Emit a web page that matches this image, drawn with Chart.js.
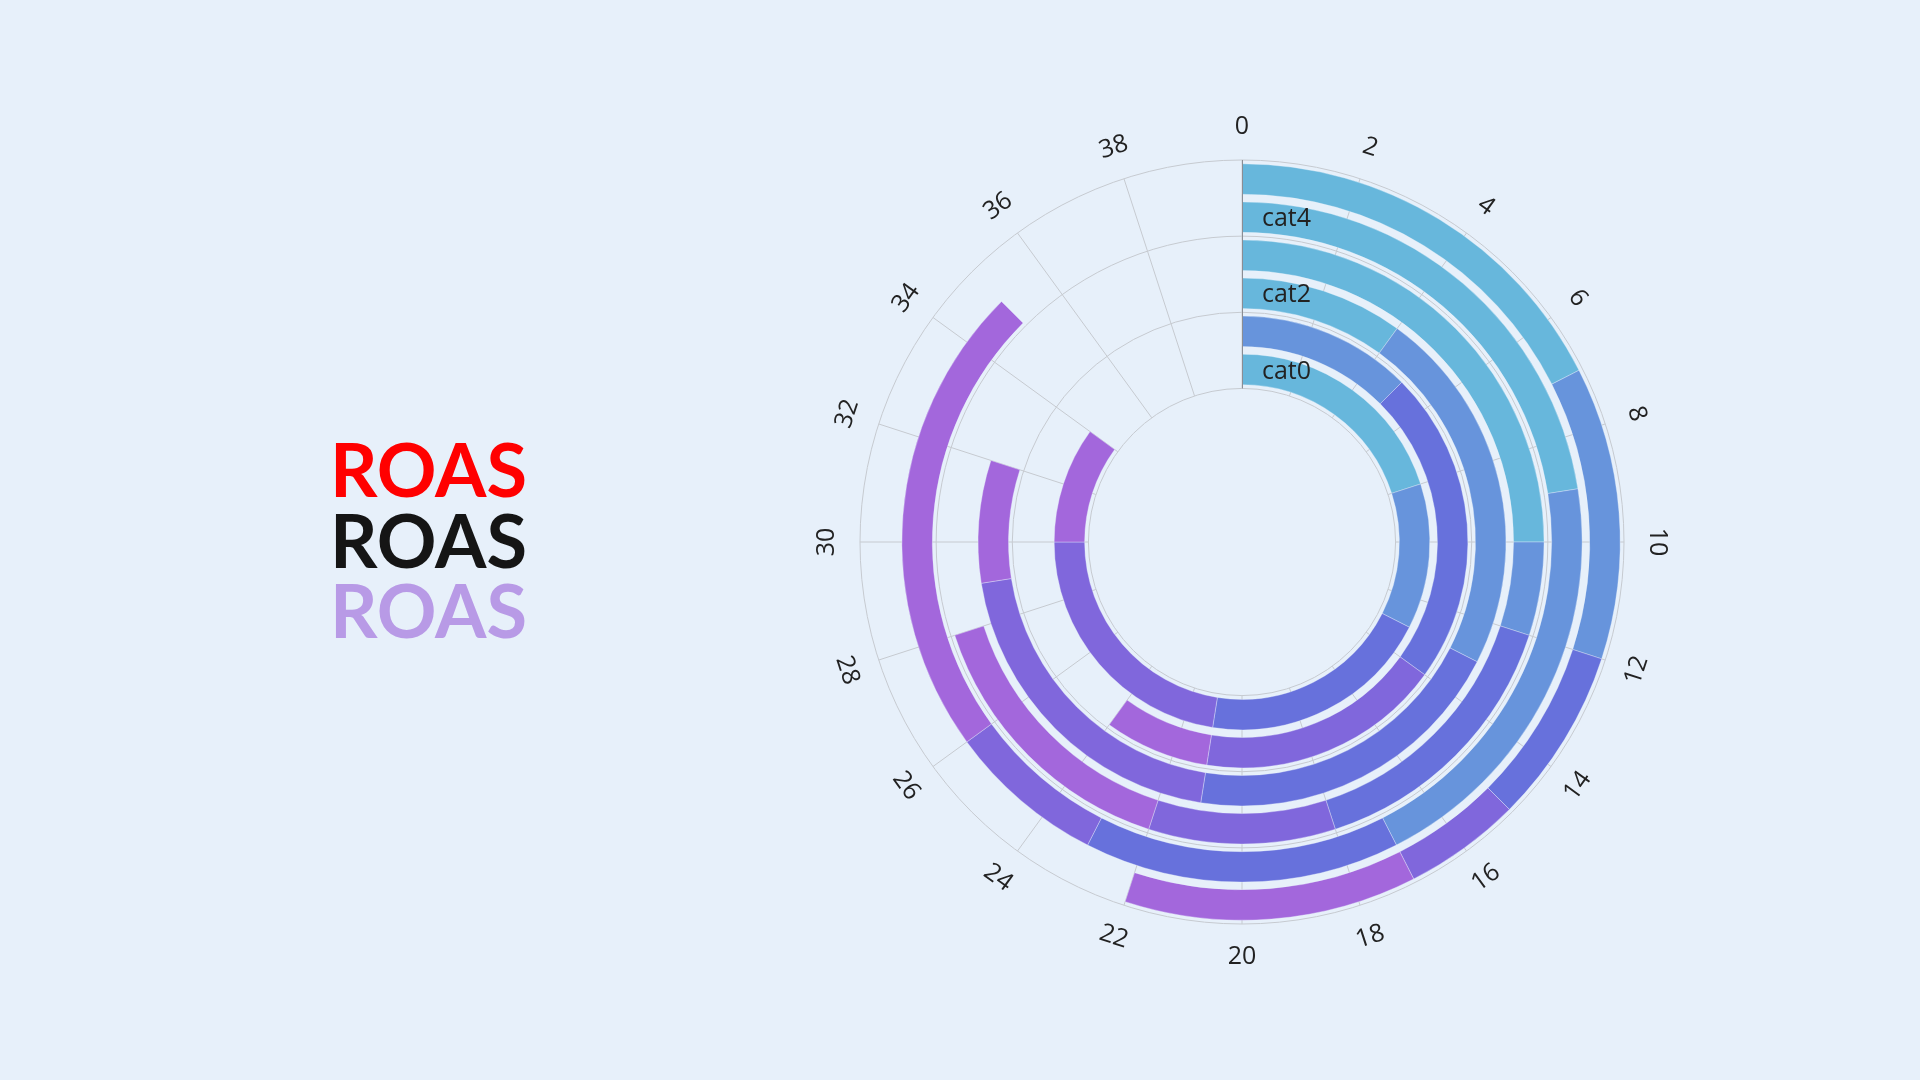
<!DOCTYPE html>
<html>
<head>
<meta charset="utf-8">
<title>ROAS polar bars</title>
<script src="https://cdn.jsdelivr.net/npm/chart.js@4.4.1/dist/chart.umd.min.js"></script>
<style>
  html, body { margin: 0; padding: 0; background: #e7f0fa; }
  #wrap { position: relative; width: 1920px; height: 1080px; overflow: hidden; }
  #chart { position: absolute; left: 0; top: 0; }
  .roas { position: absolute; left: 330px; font-family: Lato, sans-serif; font-weight: 700;
          font-size: 74px; line-height: 74px; white-space: nowrap; }
</style>
</head>
<body>
<div id="wrap">
  <canvas id="chart" width="1920" height="1080"></canvas>
  <div class="roas" style="top:432px;color:#ff0000">ROAS</div>
  <div class="roas" style="top:503px;color:#151515">ROAS</div>
  <div class="roas" style="top:573px;color:#b89ae6">ROAS</div>
</div>
<script>
// ----------------- Data -----------------
const categories = ["cat0", "cat1", "cat2", "cat3", "cat4", "cat5"];
const angleTicks = [0, 2, 4, 6, 8, 10, 12, 14, 16, 18, 20, 22, 24, 26, 28, 30, 32, 34, 36, 38];
const angleMax = 40;

// stacked series, one value per category
const series1 = [8, 0, 4, 10, 9, 7];
const series2 = [5, 5, 9, 2, 8, 5];
const series3 = [8, 9, 8, 6, 6, 3];
const series4 = [9, 7, 8, 4, 3, 2];
const series5 = [4, 3, 3, 6, 9, 5];

const seriesColors = ["#67b7dc", "#6794dc", "#6771dc", "#8067dc", "#a367dc"];
const blank = "rgba(0,0,0,0)";

// ----------------- Rings -----------------
// doughnut datasets run outer -> inner, so cat5 first; thin blank rings make the gaps
function buildRings() {
  const all = [series1, series2, series3, series4, series5];
  const rings = [];
  const spacer = w => ({ data: [angleMax], backgroundColor: blank, borderWidth: 0, weight: w });
  rings.push(spacer(0.1));
  for (let i = categories.length - 1; i >= 0; i--) {
    const vals = all.map(s => s[i]);
    const used = vals.reduce((a, b) => a + b, 0);
    rings.push({
      label: categories[i],
      data: vals.concat([angleMax - used]),
      backgroundColor: seriesColors.concat([blank]),
      borderColor: "rgba(235,243,252,0.35)",
      borderWidth: vals.map(() => 1).concat([0]),
      weight: 0.8
    });
    rings.push(spacer(i === 0 ? 0.1 : 0.2));
  }
  return rings;
}

// ----------------- Polar axis -----------------
const polarAxis = {
  id: "polarAxis",
  geo(chart) {
    const metas = chart.getSortedVisibleDatasetMetas();
    const outer = metas[0].controller;
    const inner = metas[metas.length - 1].controller;
    const arc = metas[0].data[0];
    const r0 = inner.innerRadius, r1 = outer.outerRadius;
    return { cx: arc.x, cy: arc.y, r0, r1, band: (r1 - r0) / categories.length };
  },
  beforeDatasetsDraw(chart) {
    const { ctx } = chart;
    const g = this.geo(chart);
    ctx.save();
    ctx.strokeStyle = "#c6cad0";
    ctx.lineWidth = 1;
    // split lines along the angle axis
    angleTicks.forEach(t => {
      const a = t / angleMax * Math.PI * 2 - Math.PI / 2;
      ctx.beginPath();
      ctx.moveTo(g.cx + g.r0 * Math.cos(a), g.cy + g.r0 * Math.sin(a));
      ctx.lineTo(g.cx + g.r1 * Math.cos(a), g.cy + g.r1 * Math.sin(a));
      ctx.stroke();
    });
    // circles every second category
    for (let k = 0; k <= categories.length; k += 2) {
      ctx.beginPath();
      ctx.arc(g.cx, g.cy, g.r0 + g.band * k, 0, Math.PI * 2);
      ctx.stroke();
    }
    ctx.restore();
  },
  afterDatasetsDraw(chart) {
    const { ctx } = chart;
    const g = this.geo(chart);
    ctx.save();
    // radius axis line
    ctx.strokeStyle = "#8a8d94";
    ctx.lineWidth = 1;
    ctx.beginPath();
    ctx.moveTo(Math.round(g.cx) + 0.5, g.cy - g.r0);
    ctx.lineTo(Math.round(g.cx) + 0.5, g.cy - g.r1);
    ctx.stroke();

    ctx.fillStyle = "#222222";
    ctx.font = "25px 'Open Sans', sans-serif";
    // angle tick labels, turned to follow the circle
    ctx.textAlign = "center";
    ctx.textBaseline = "middle";
    angleTicks.forEach(t => {
      const deg = t / angleMax * 360;
      const a = deg * Math.PI / 180 - Math.PI / 2;
      const r = g.r1 + 33;
      const rot = deg <= 90 ? deg : (deg < 270 ? deg - 180 : deg - 360);
      ctx.save();
      ctx.translate(g.cx + r * Math.cos(a), g.cy + r * Math.sin(a));
      ctx.rotate(rot * Math.PI / 180);
      ctx.fillText(String(t), 0, 0);
      ctx.restore();
    });
    // category labels (every second one)
    ctx.textAlign = "left";
    categories.forEach((c, i) => {
      if (i % 2) return;
      const r = g.r0 + g.band * (i + 0.5);
      ctx.fillText(c, g.cx + 20, g.cy - r + 2);
    });
    ctx.restore();
  }
};

// ----------------- Init -----------------
new Chart(document.getElementById("chart"), {
  type: "doughnut",
  data: {
    labels: ["s1", "s2", "s3", "s4", "s5", "rest"],
    datasets: buildRings()
  },
  options: {
    responsive: false,
    animation: false,
    events: [],
    cutout: "40.2%",
    layout: { padding: { left: 860, right: 296, top: 160, bottom: 156 } },
    plugins: { legend: { display: false }, tooltip: { enabled: false } }
  },
  plugins: [polarAxis]
});
</script>
</body>
</html>
